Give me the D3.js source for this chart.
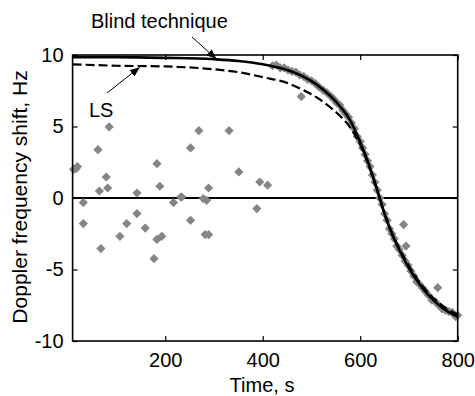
<!DOCTYPE html>
<html>
<head>
<meta charset="utf-8">
<script src="https://cdn.jsdelivr.net/npm/d3@7"></script>
<style>
  body { margin: 0; background: #fff; }
  svg text { font-family: "Liberation Sans", Arial, sans-serif; fill: #000; }
</style>
</head>
<body>
<div id="chart"></div>
<script>
// scattered measurements before the fast change
var noiseTime = [12, 17, 20, 32, 32, 62, 65, 68, 79, 82, 85, 107, 121, 142, 142, 159, 177, 183, 183,
    189, 193, 217, 232, 234, 252, 252, 269, 278, 285, 282, 289, 289, 331, 351, 388, 394, 410, 479];
var noiseValue = [2.0, 2.05, 2.2, -0.32, -1.79, 3.38, 0.49, -3.54, 1.47, 0.7, 4.97, -2.68, -1.79, 0.35, -1.09, -2.1, -4.24, 2.4, -2.9,
    0.82, -2.68, -0.32, 0.07, 0.07, 3.5, -1.56, 4.71, -0.04, -0.16, -2.56, -2.56, 0.7, 4.71, 1.82, -0.74, 1.12, 0.9, 7.09];

// measurements that follow the curve
var trackTime = [420, 428, 436, 444, 452, 460, 468, 476, 484, 492, 500, 508, 516, 524, 532, 540, 546, 552, 558,
    564, 570, 576, 582, 588, 594, 600, 605, 610, 615, 620, 625, 630, 635, 640, 645, 650, 655, 660, 665, 670, 675,
    680, 686, 689, 692, 694, 698, 704, 710, 716, 722, 728, 734, 740, 747, 754, 759, 761, 768, 775, 782, 789, 796, 800];
var trackValue = [9.25, 9.3, 9.1, 9.1, 8.95, 8.85, 8.8, 8.6, 8.5, 8.3, 8.2, 8.0, 7.75, 7.55, 7.35, 7.1, 6.9, 6.65, 6.5,
    6.15, 5.9, 5.65, 5.25, 4.85, 4.3, 3.95, 3.5, 3.05, 2.6, 2.2, 1.6, 1.1, 0.55, 0.0, -0.45, -1.1, -1.55, -2.15, -2.5, -2.85, -3.35,
    -3.6, -4.0, -1.86, -4.4, -3.36, -4.7, -5.1, -5.45, -5.85, -6.05, -6.3, -6.55, -6.8, -7.15, -7.25, -6.27, -7.5, -7.75, -7.85, -7.95, -8.0, -8.3, -8.2];

// estimated curves
var blindTime = [10, 100, 200, 300, 350, 400, 450, 480, 510, 540, 560, 580, 600, 615, 630, 640, 650, 665, 680, 700, 720, 740, 760, 780, 800];
var blindValue = [9.85, 9.85, 9.8, 9.7, 9.58, 9.35, 8.95, 8.55, 7.95, 7.1, 6.35, 5.4, 3.9, 2.6, 1.1, 0.0, -1.1, -2.5, -3.6, -4.9, -5.95, -6.8, -7.45, -7.95, -8.3];
var lsTime = [10, 100, 200, 300, 350, 400, 450, 480, 510, 540, 560, 580, 600, 615, 630, 640, 650, 665, 680, 700, 720, 740, 760, 780, 800];
var lsValue = [9.35, 9.25, 9.2, 9.0, 8.8, 8.45, 8.05, 7.6, 7.05, 6.3, 5.7, 4.9, 3.7, 2.5, 1.0, -0.05, -1.1, -2.4, -3.5, -4.75, -5.8, -6.65, -7.3, -7.8, -8.15];

var xTicks = [200, 400, 600, 800];
var yTicks = [-10, -5, 0, 5, 10];

var W = 475, H = 396;
var margin = {top: 55, right: 17.3, bottom: 55, left: 72.6};

var svg = d3.select("#chart").append("svg")
    .attr("width", W)
    .attr("height", H);

var x = d3.scaleLinear().domain([10, 800]).range([margin.left, W - margin.right]);
var y = d3.scaleLinear().domain([-10, 10]).range([H - margin.bottom, margin.top]);

// zero line
svg.append("line")
    .attr("x1", x(10)).attr("x2", x(800))
    .attr("y1", y(0)).attr("y2", y(0))
    .attr("stroke", "#000").attr("stroke-width", 1.2)
    .attr("shape-rendering", "crispEdges");

// gray diamonds
var pts = noiseTime.map(function(t, i) { return [t, noiseValue[i]]; })
    .concat(trackTime.map(function(t, i) { return [t, trackValue[i]]; }));

svg.append("g").selectAll("path")
    .data(pts)
    .enter().append("path")
    .attr("d", "M0,-4.6L4.6,0L0,4.6L-4.6,0Z")
    .attr("transform", function(d) { return "translate(" + x(d[0]) + "," + y(d[1]) + ")"; })
    .attr("fill", "#858585");

var line = d3.line()
    .x(function(d) { return x(d[0]); })
    .y(function(d) { return y(d[1]); })
    .curve(d3.curveMonotoneX);

svg.append("path")
    .datum(lsTime.map(function(t, i) { return [t, lsValue[i]]; }))
    .attr("d", line)
    .attr("fill", "none")
    .attr("stroke", "#000")
    .attr("stroke-width", 2.2)
    .attr("stroke-dasharray", "9,4");

svg.append("path")
    .datum(blindTime.map(function(t, i) { return [t, blindValue[i]]; }))
    .attr("d", line)
    .attr("fill", "none")
    .attr("stroke", "#000")
    .attr("stroke-width", 2.6);

// axes, ticks pointing inward
var fs = "20px";
var plain = function(d) { return String(d); };
svg.append("g")
    .attr("transform", "translate(0," + y(-10) + ")")
    .call(d3.axisBottom(x).tickValues(xTicks).tickSizeInner(-5).tickSizeOuter(0).tickPadding(12).tickFormat(plain));
svg.append("g")
    .attr("transform", "translate(" + x(10) + ",0)")
    .call(d3.axisLeft(y).tickValues(yTicks).tickSizeInner(-5).tickSizeOuter(0).tickPadding(9).tickFormat(plain));
svg.append("g")
    .attr("transform", "translate(0," + y(10) + ")")
    .call(d3.axisTop(x).tickValues(xTicks).tickSizeInner(-5).tickSizeOuter(0).tickFormat(""));
svg.append("g")
    .attr("transform", "translate(" + x(800) + ",0)")
    .call(d3.axisRight(y).tickValues(yTicks).tickSizeInner(-5).tickSizeOuter(0).tickFormat(""));

svg.selectAll(".tick text").style("font-size", fs).attr("font-family", null);
svg.selectAll(".domain").remove();
svg.selectAll(".tick line").attr("stroke-width", 1.2);

// frame
svg.append("rect")
    .attr("x", x(10)).attr("y", y(10))
    .attr("width", x(800) - x(10)).attr("height", y(-10) - y(10))
    .attr("fill", "none").attr("stroke", "#000").attr("stroke-width", 1.6);

// axis titles
svg.append("text")
    .attr("x", 262).attr("y", 392)
    .attr("text-anchor", "middle")
    .style("font-size", fs)
    .text("Time, s");

svg.append("text")
    .attr("transform", "translate(27," + 197 + ") rotate(-90)")
    .attr("text-anchor", "middle")
    .style("font-size", "21px")
    .text("Doppler frequency shift, Hz");

// annotations
svg.append("defs").append("marker")
    .attr("id", "head")
    .attr("viewBox", "0 0 10 8")
    .attr("refX", 10).attr("refY", 4)
    .attr("markerWidth", 10).attr("markerHeight", 8)
    .attr("markerUnits", "userSpaceOnUse")
    .attr("orient", "auto")
    .append("path").attr("d", "M0,0L10,4L0,8Z").attr("fill", "#000");

svg.append("text")
    .attr("x", 91).attr("y", 28)
    .style("font-size", fs)
    .text("Blind technique");
svg.append("line")
    .attr("x1", 192).attr("y1", 37)
    .attr("x2", x(305)).attr("y2", y(9.72))
    .attr("stroke", "#000").attr("stroke-width", 1)
    .attr("marker-end", "url(#head)");

svg.append("text")
    .attr("x", 89).attr("y", 117)
    .style("font-size", fs)
    .text("LS");
svg.append("line")
    .attr("x1", 107).attr("y1", 93)
    .attr("x2", x(148)).attr("y2", y(9.15))
    .attr("stroke", "#000").attr("stroke-width", 1)
    .attr("marker-end", "url(#head)");
</script>
</body>
</html>
